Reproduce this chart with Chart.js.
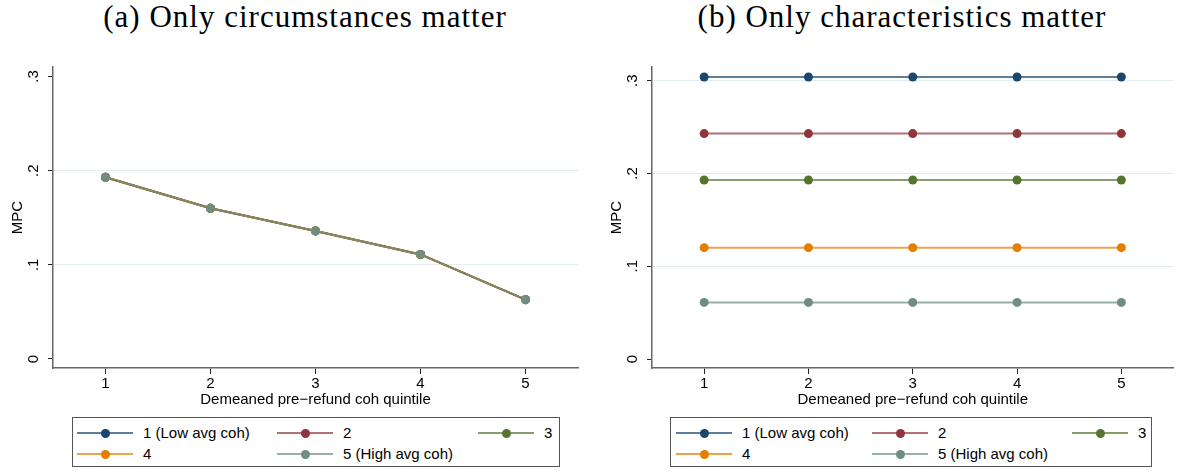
<!DOCTYPE html>
<html>
<head>
<meta charset="utf-8">
<script src="https://cdn.jsdelivr.net/npm/chart.js@4.4.0/dist/chart.umd.min.js"></script>
<style>
html,body{margin:0;padding:0;background:#fff;}
body{width:1178px;height:472px;position:relative;overflow:hidden;font-family:"Liberation Sans",Arial,sans-serif;color:#000;}
.panel{position:absolute;top:0;width:589px;height:410px;}
.title{position:absolute;top:1px;font-family:"Liberation Serif",serif;font-size:31px;line-height:31px;letter-spacing:1px;white-space:nowrap;transform:translateX(-50%);color:#000;}
.legend{position:absolute;top:417px;height:50px;border:1px solid #555;box-sizing:border-box;background:#fff;}
.item{position:absolute;height:18px;}
.item .ln{position:absolute;top:8px;left:0;width:56px;height:2px;}
.item .dot{position:absolute;top:4.5px;left:23.5px;width:9px;height:9px;border-radius:50%;}
.item .tx{position:absolute;left:66px;top:0;font-size:15px;line-height:18px;white-space:nowrap;}
</style>
</head>
<body>
<div class="title" style="left:305px">(a) Only circumstances matter</div>
<div class="title" style="left:902px">(b) Only characteristics matter</div>
<canvas id="cA" class="panel" width="589" height="410" style="left:0"></canvas>
<canvas id="cB" class="panel" width="589" height="410" style="left:589px"></canvas>
<div id="legA" class="legend" style="left:72px;width:488px"></div>
<div id="legB" class="legend" style="left:670px;width:482px"></div>
<script>
// ---- data ----
const quintiles = [1, 2, 3, 4, 5];
const seriesLabels = ['1 (Low avg coh)', '2', '3', '4', '5 (High avg coh)'];
// Panel (a): every group has the same MPC profile over quintiles
const circumstancesMPC = [0.193, 0.160, 0.136, 0.111, 0.063];
// Panel (b): each group's MPC, constant over quintiles
const characteristicsMPC = [0.304, 0.243, 0.193, 0.120, 0.061];
const yTicks = [0, 0.1, 0.2, 0.3];
const yTickLabels = ['0', '.1', '.2', '.3'];
const xTitle = 'Demeaned pre\u2212refund coh quintile';
const yTitle = 'MPC';

// ---- styles ----
const seriesRGB = [[26,71,111],[144,53,59],[85,117,47],[227,126,0],[110,142,132]];
const FONT = '"Liberation Sans", Arial, sans-serif';

function rgba(c, a) { return 'rgba(' + c[0] + ',' + c[1] + ',' + c[2] + ',' + a + ')'; }

function makeDatasets(valuesFor) {
  return seriesLabels.map((lab, i) => ({
    label: lab,
    data: quintiles.map((q, j) => ({ x: q, y: valuesFor(i, j) })),
    borderColor: rgba(seriesRGB[i], 0.7),
    backgroundColor: rgba(seriesRGB[i], 1),
    pointBackgroundColor: rgba(seriesRGB[i], 1),
    pointBorderWidth: 0,
    pointRadius: 4.5,
    pointHoverRadius: 4.5,
    borderWidth: 2,
    tension: 0,
    fill: false,
    order: seriesLabels.length - 1 - i
  }));
}

function makeChart(canvas, datasets, cfg) {
  return new Chart(canvas, {
    type: 'line',
    data: { datasets },
    options: {
      responsive: false,
      animation: false,
      devicePixelRatio: 1,
      events: [],
      layout: { padding: { top: 67, right: cfg.rightPad, left: 0, bottom: 0 } },
      plugins: { legend: { display: false }, tooltip: { enabled: false } },
      scales: {
        x: {
          type: 'linear',
          min: 0.5, max: 5.5,
          afterBuildTicks: s => { s.ticks = quintiles.map(v => ({ value: v })); },
          afterFit: s => { s.height = 42; },
          ticks: { color: '#000', font: { family: FONT, size: 15 }, padding: 1, maxRotation: 0, autoSkip: false,
                   callback: (v) => String(v) },
          grid: { drawOnChartArea: false, drawTicks: true, tickLength: 6, tickColor: '#222', tickWidth: 1 },
          border: { display: true, color: '#666', width: 1.5 },
          title: { display: true, text: xTitle, color: '#000', font: { family: FONT, size: 15 }, padding: { top: 0, bottom: 1 } }
        },
        y: {
          type: 'linear',
          min: cfg.yMin, max: cfg.yMax,
          afterBuildTicks: s => { s.ticks = yTicks.map(v => ({ value: v })); },
          afterFit: s => { s.width = cfg.yWidth; },
          ticks: { color: '#000', font: { family: FONT, size: 15 }, padding: 8, minRotation: 90, maxRotation: 90,
                   crossAlign: 'center', autoSkip: false,
                   callback: (v, i) => yTickLabels[i] },
          grid: {
            drawTicks: true, tickLength: 5, tickColor: '#222', tickWidth: 1, lineWidth: 1,
            color: ctx => {
              const v = ctx.tick ? ctx.tick.value : null;
              if (v === 0) return 'rgba(0,0,0,0)';
              if (v === 0.3 && !cfg.topGrid) return 'rgba(0,0,0,0)';
              return '#e3ecef';
            }
          },
          border: { display: true, color: '#666', width: 1.5 },
          title: { display: true, text: yTitle, color: '#000', font: { family: FONT, size: 15 }, padding: { top: cfg.titlePad, bottom: 0 } }
        }
      }
    }
  });
}

const chartA = makeChart(document.getElementById('cA'),
  makeDatasets((i, j) => circumstancesMPC[j]),
  { yMin: -0.0096, yMax: 0.3101, yWidth: 53, rightPad: 11, titlePad: 9, topGrid: false });

const chartB = makeChart(document.getElementById('cB'),
  makeDatasets((i, j) => characteristicsMPC[i]),
  { yMin: -0.0097, yMax: 0.3148, yWidth: 63, rightPad: 1, titlePad: 19, topGrid: true });

// ---- HTML legends built from the chart datasets ----
const legendLayouts = {
  legA: { cols: [5, 205, 406], rows: [16, 37] },
  legB: { cols: [6, 202, 402], rows: [16, 37] }
};
function buildLegend(id, chart) {
  const el = document.getElementById(id);
  const lay = legendLayouts[id];
  chart.data.datasets.forEach((ds, i) => {
    const col = i % 3, row = Math.floor(i / 3);
    const it = document.createElement('div');
    it.className = 'item';
    it.style.left = (lay.cols[col] - 1) + 'px';
    it.style.top = (lay.rows[row] - 1 - 9) + 'px';
    const ln = document.createElement('div'); ln.className = 'ln'; ln.style.background = ds.borderColor;
    const dot = document.createElement('div'); dot.className = 'dot'; dot.style.background = ds.pointBackgroundColor;
    const tx = document.createElement('div'); tx.className = 'tx'; tx.textContent = ds.label;
    it.appendChild(ln); it.appendChild(dot); it.appendChild(tx);
    el.appendChild(it);
  });
}
buildLegend('legA', chartA);
buildLegend('legB', chartB);
</script>
</body>
</html>
